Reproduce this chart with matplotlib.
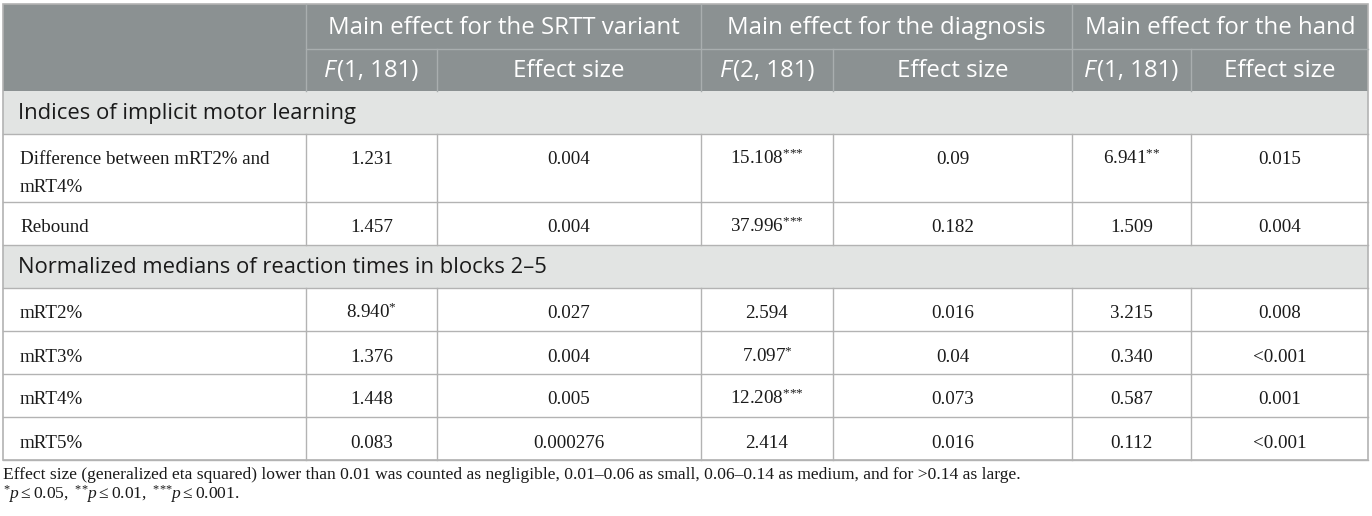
"""Recreate the ANOVA main-effects table as a matplotlib figure."""
import matplotlib
matplotlib.use("Agg")
import matplotlib.pyplot as plt
from matplotlib.patches import Rectangle
from matplotlib.offsetbox import TextArea, HPacker, AnnotationBbox

plt.rcParams["mathtext.fontset"] = "custom"
plt.rcParams["mathtext.rm"] = "Liberation Serif"
plt.rcParams["mathtext.it"] = "Liberation Serif:italic"

# ---- table content ----
groups = ["Main effect for the SRTT variant",
          "Main effect for the diagnosis",
          "Main effect for the hand"]
f_labels = ["(1, 181)", "(2, 181)", "(1, 181)"]
sections = ["Indices of implicit motor learning",
            "Normalized medians of reaction times in blocks 2\u20135"]
row_labels_1 = ["Difference between mRT2% and\nmRT4%", "Rebound"]
row_labels_2 = ["mRT2%", "mRT3%", "mRT4%", "mRT5%"]

f_srtt = ["1.231", "1.457", "8.940*", "1.376", "1.448", "0.083"]
es_srtt = ["0.004", "0.004", "0.027", "0.004", "0.005", "0.000276"]
f_diag = ["15.108***", "37.996***", "2.594", "7.097*", "12.208***", "2.414"]
es_diag = ["0.09", "0.182", "0.016", "0.04", "0.073", "0.016"]
f_hand = ["6.941**", "1.509", "3.215", "0.340", "0.587", "0.112"]
es_hand = ["0.015", "0.004", "0.008", "<0.001", "0.001", "<0.001"]

note_1 = ("Effect size (generalized eta squared) lower than 0.01 was counted as negligible, "
          "0.01\u20130.06 as small, 0.06\u20130.14 as medium, and for >0.14 as large.")
note_2 = r"$^{*}p\leq 0.05,\ ^{{*}{*}}p\leq 0.01,\ ^{{*}{*}{*}}p\leq 0.001.$"

# ---- layout (pixels) ----
W, H = 1372, 516
col_x = [3, 306, 437, 701, 833, 1072, 1191, 1368]
hdr_y = [4, 49, 91]
body_heights = [43, 68, 43, 43, 43, 43, 43, 43]   # section, diff, rebound, section, 4 rows

HDR_BG = "#8b9192"
HDR_LINE = "#a9aeaf"
SEC_BG = "#e2e4e3"
GRID = "#b3b3b3"
INK = "#1a1a1a"
SANS = "Open Sans"
SERIF = "Liberation Serif"
HDR_FS = 17.3
SEC_FS = 15.8
BODY_FS = 13.7


def fmt(v):
    n = v.count("*")
    if n:
        return v.replace("*", "") + r"$^{" + "{*}" * n + "}$"
    return v


def main() -> None:
    fig = plt.figure(figsize=(W / 100, H / 100), dpi=100)
    ax = fig.add_axes([0, 0, 1, 1])
    ax.set_xlim(0, W)
    ax.set_ylim(H, 0)
    ax.axis("off")

    left, right = col_x[0], col_x[-1]

    # header block
    ax.add_patch(Rectangle((left, hdr_y[0]), right - left, hdr_y[2] - hdr_y[0],
                           facecolor=HDR_BG, edgecolor="none"))
    for x in col_x[1:-1]:
        y0 = hdr_y[0] if x in (col_x[1], col_x[3], col_x[5]) else hdr_y[1]
        ax.plot([x, x], [y0, hdr_y[2]], color=HDR_LINE, lw=1)
    ax.plot([col_x[1], right], [hdr_y[1], hdr_y[1]], color=HDR_LINE, lw=1)

    for i, g in enumerate(groups):
        xc = (col_x[1 + 2 * i] + col_x[3 + 2 * i]) / 2
        ax.text(xc, (hdr_y[0] + hdr_y[1]) / 2 + 1, g, ha="center", va="center",
                color="white", fontsize=HDR_FS, family=SANS)
        xf = (col_x[1 + 2 * i] + col_x[2 + 2 * i]) / 2
        box = HPacker(children=[
            TextArea("F", textprops=dict(color="white", fontsize=HDR_FS, family=SANS,
                                         style="italic")),
            TextArea(f_labels[i], textprops=dict(color="white", fontsize=HDR_FS, family=SANS)),
        ], sep=1, align="baseline", pad=0)
        ab = AnnotationBbox(box, (xf, (hdr_y[1] + hdr_y[2]) / 2 + 1), frameon=False,
                            box_alignment=(0.5, 0.5), pad=0)
        ax.add_artist(ab)
        xe = (col_x[2 + 2 * i] + col_x[3 + 2 * i]) / 2
        ax.text(xe, (hdr_y[1] + hdr_y[2]) / 2 + 1, "Effect size", ha="center", va="center",
                color="white", fontsize=HDR_FS, family=SANS)

    # body
    labels = [None] + row_labels_1 + [None] + row_labels_2
    value_cols = [f_srtt, es_srtt, f_diag, es_diag, f_hand, es_hand]
    y = hdr_y[2]
    data_i = 0
    sec_i = 0
    for k, h in enumerate(body_heights):
        lab = labels[k]
        if lab is None:
            ax.add_patch(Rectangle((left, y), right - left, h, facecolor=SEC_BG,
                                   edgecolor="none"))
            ax.text(left + 15, y + h / 2 + 1, sections[sec_i], ha="left", va="center",
                    fontsize=SEC_FS, family=SANS, color=INK)
            sec_i += 1
        else:
            for x in col_x[1:-1]:
                ax.plot([x, x], [y, y + h], color=GRID, lw=1)
            base = y + 30.5
            for j, line in enumerate(lab.split("\n")):
                ax.text(left + 17, base + 27 * j, line, ha="left", va="baseline",
                        fontsize=BODY_FS, family=SERIF, color=INK)
            for c, vals in enumerate(value_cols):
                xc = (col_x[1 + c] + col_x[2 + c]) / 2
                ax.text(xc, base, fmt(vals[data_i]), ha="center", va="baseline",
                        fontsize=BODY_FS, family=SERIF, color=INK)
            data_i += 1
        y += h
        ax.plot([left, right], [y, y], color=GRID, lw=1)

    # outer border
    ax.add_patch(Rectangle((left, hdr_y[0]), right - left, y - hdr_y[0],
                           facecolor="none", edgecolor=GRID, lw=1.2))

    # notes
    ax.text(left, 475, note_1, ha="left", va="center", fontsize=12.6, family=SERIF,
            color=INK)
    ax.text(left, 494, note_2, ha="left", va="center", fontsize=12.6, color=INK)

    fig.savefig("out.png", dpi=100)
    plt.close(fig)


if __name__ == "__main__":
    main()
